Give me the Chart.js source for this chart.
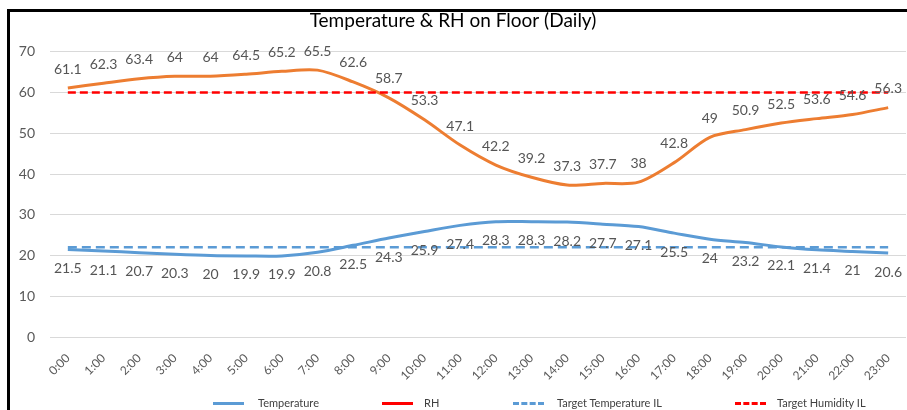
<!DOCTYPE html>
<html>
<head>
<meta charset="utf-8">
<script src="https://cdn.jsdelivr.net/npm/chart.js@4/dist/chart.umd.min.js"></script>
<style>
  body { margin: 0; background: #fff; }
  #wrap { position: relative; width: 907px; height: 410px; overflow: hidden; }
  #frame { position: absolute; left: 7px; top: 9px; right: 0; bottom: 0;
           border-left: 3px solid #000; border-top: 3px solid #000; pointer-events: none; }
  .lg { position: absolute; top: 396px; font: 11px Lato, "Liberation Sans", sans-serif; color: #404040; }
  .sw { position: absolute; top: 402px; width: 31px; height: 0; }
</style>
</head>
<body>
<div id="wrap">
  <canvas id="floorChart" width="907" height="410"></canvas>
  <div id="frame"></div>
  <!-- legend drawn in html so spacing can match the excel one -->
  <div class="sw" style="left:213px;border-top:3px solid #5B9BD5"></div>
  <div class="lg" style="left:258px">Temperature</div>
  <div class="sw" style="left:382px;border-top:3px solid #FF0000"></div>
  <div class="lg" style="left:424px">RH</div>
  <div class="sw" style="left:513px;border-top:3px dashed #5B9BD5"></div>
  <div class="lg" style="left:557px">Target Temperature IL</div>
  <div class="sw" style="left:735px;border-top:3px dashed #FF0000"></div>
  <div class="lg" style="left:777px">Target Humidity IL</div>
</div>
<script>
// hours on the x axis
const hours = ["0:00", "1:00", "2:00", "3:00", "4:00", "5:00", "6:00", "7:00",
  "8:00", "9:00", "10:00", "11:00", "12:00", "13:00", "14:00", "15:00",
  "16:00", "17:00", "18:00", "19:00", "20:00", "21:00", "22:00", "23:00"];

const temperature = [21.5, 21.1, 20.7, 20.3, 20, 19.9, 19.9, 20.8, 22.5, 24.3, 25.9, 27.4,
  28.3, 28.3, 28.2, 27.7, 27.1, 25.5, 24, 23.2, 22.1, 21.4, 21, 20.6];

const rh = [61.1, 62.3, 63.4, 64, 64, 64.5, 65.2, 65.5, 62.6, 58.7, 53.3, 47.1,
  42.2, 39.2, 37.3, 37.7, 38, 42.8, 49, 50.9, 52.5, 53.6, 54.6, 56.3];

// target lines (constant per hour)
const targetTemp = [22, 22, 22, 22, 22, 22, 22, 22, 22, 22, 22, 22,
  22, 22, 22, 22, 22, 22, 22, 22, 22, 22, 22, 22];
const targetHum = [60, 60, 60, 60, 60, 60, 60, 60, 60, 60, 60, 60,
  60, 60, 60, 60, 60, 60, 60, 60, 60, 60, 60, 60];

const yTicks = [0, 10, 20, 30, 40, 50, 60, 70];

// value labels: temperature below the point, RH above
const valueLabels = {
  id: "valueLabels",
  afterDatasetsDraw(chart) {
    const ctx = chart.ctx;
    ctx.save();
    ctx.font = "14px Lato, 'Liberation Sans', sans-serif";
    ctx.fillStyle = "#555555";
    ctx.textAlign = "center";
    ctx.textBaseline = "middle";
    chart.data.datasets.forEach((ds, i) => {
      if (!ds.showValues) return;
      const meta = chart.getDatasetMeta(i);
      meta.data.forEach((pt, j) => {
        const dy = ds.showValues === "above" ? -19 : 19;
        ctx.fillText(String(ds.data[j]), pt.x, pt.y + dy);
      });
    });
    ctx.restore();
  },
};

const ctx = document.getElementById("floorChart").getContext("2d");

new Chart(ctx, {
  type: "line",
  data: {
    labels: hours,
    datasets: [
      {
        label: "Target Humidity IL",
        data: targetHum,
        borderColor: "#FF0000",
        borderWidth: 2.5,
        borderDash: [8, 4],
        pointRadius: 0,
        order: 0,
      },
      {
        label: "Target Temperature IL",
        data: targetTemp,
        borderColor: "#5B9BD5",
        borderWidth: 2.5,
        borderDash: [9, 5],
        pointRadius: 0,
        order: 1,
      },
      {
        label: "RH",
        data: rh,
        borderColor: "#ED7D31",
        borderWidth: 3,
        tension: 0.3,
        pointRadius: 0,
        showValues: "above",
        order: 2,
      },
      {
        label: "Temperature",
        data: temperature,
        borderColor: "#5B9BD5",
        borderWidth: 3,
        tension: 0.3,
        pointRadius: 0,
        showValues: "below",
        order: 3,
      },
    ],
  },
  options: {
    responsive: false,
    animation: false,
    layout: { padding: { left: 0, right: 1, top: 0, bottom: 15 } },
    plugins: {
      legend: { display: false },
      tooltip: { enabled: false },
      title: {
        display: true,
        text: "Temperature & RH on Floor (Daily)",
        color: "#000",
        font: { family: "Lato, 'Liberation Sans', sans-serif", size: 19, weight: "normal" },
        padding: { top: 9, bottom: 20 },
      },
    },
    scales: {
      x: {
        offset: true,
        grid: { display: false },
        border: { display: false },
        ticks: {
          color: "#595959",
          font: { family: "Lato, 'Liberation Sans', sans-serif", size: 12 },
          minRotation: 45,
          maxRotation: 45,
          padding: 6,
        },
        afterFit(scale) { scale.height = 58; },
      },
      y: {
        min: 0,
        max: 70,
        grid: { color: "#D9D9D9", drawTicks: false },
        border: { display: false },
        afterBuildTicks(scale) { scale.ticks = yTicks.map((v) => ({ value: v })); },
        ticks: {
          color: "#595959",
          font: { family: "Lato, 'Liberation Sans', sans-serif", size: 14 },
          padding: 15,
        },
        afterFit(scale) { scale.width = 50; },
      },
    },
  },
  plugins: [valueLabels],
});
</script>
</body>
</html>
